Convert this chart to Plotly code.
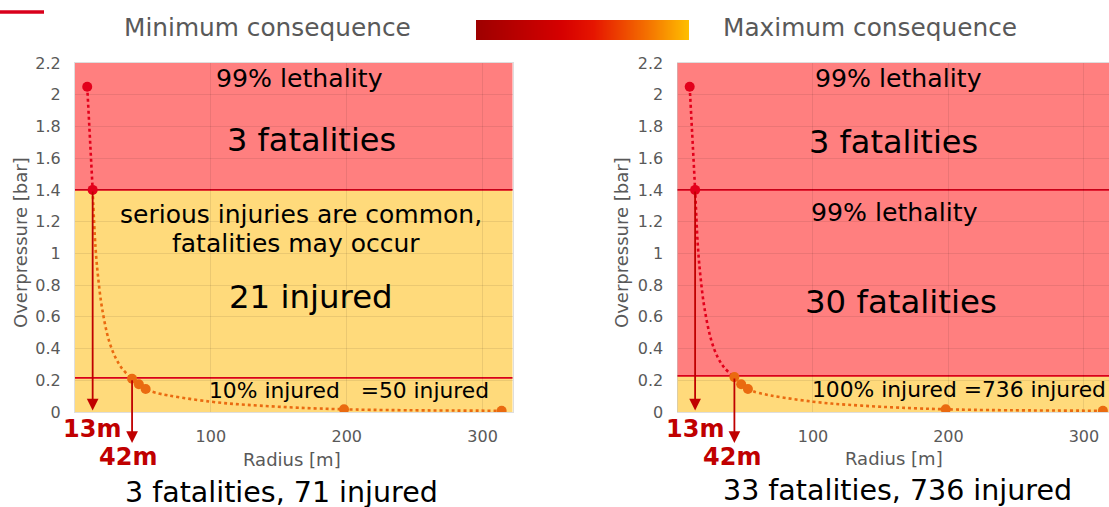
import plotly.graph_objects as go

# ---------------- data ----------------
y_ticks = [0, 0.2, 0.4, 0.6, 0.8, 1.0, 1.2, 1.4, 1.6, 1.8, 2.0, 2.2]
y_tick_text = ["0", "0.2", "0.4", "0.6", "0.8", "1", "1.2", "1.4", "1.6", "1.8", "2", "2.2"]
x_ticks = [100, 200, 300]
x_tick_text = ["100", "200", "300"]

# marked points (radius [m], overpressure [bar])
lethal_r = [9, 13]
lethal_p = [2.05, 1.4]
injury_r = [42, 47, 52, 198, 314]
injury_p_min = [0.21, 0.175, 0.145, 0.017, 0.008]
injury_p_max = [0.22, 0.175, 0.145, 0.017, 0.008]

# overpressure curve
curve_r_upper = [13, 15, 17, 20, 25, 30, 35, 42]
curve_p_upper_min = [1.4, 1.05, 0.85, 0.65, 0.45, 0.34, 0.27, 0.21]
curve_p_upper_max = [1.4, 1.05, 0.85, 0.65, 0.45, 0.34, 0.275, 0.22]
curve_r_lower = [42, 47, 52, 60, 100, 136, 198, 314]
curve_p_lower_min = [0.21, 0.175, 0.145, 0.12, 0.065, 0.04, 0.017, 0.008]
curve_p_lower_max = [0.22, 0.175, 0.145, 0.12, 0.065, 0.04, 0.017, 0.008]

# zone thresholds [bar]
min_lethal_from = 1.4
min_lines = [1.4, 0.215]
max_lethal_from = 0.228
max_lines = [1.4, 0.228]
y_max = 2.2

# texts
min_texts = ["99% lethality", "3 fatalities", "serious injuries are common,", "fatalities may occur",
             "21 injured", "10% injured   =50 injured"]
max_texts = ["99% lethality", "3 fatalities", "99% lethality", "30 fatalities", "100% injured =736 injured"]
min_total = "3 fatalities, 71 injured"
max_total = "33 fatalities, 736 injured"

# ---------------- style ----------------
W, H = 1109, 507
FONT = "Verdana, DejaVu Sans"
RED_ZONE = "#FF7F7F"
YEL_ZONE = "#FFDA7B"
RED = "#E3001B"
ORANGE = "#EA6A10"
LINE_RED = "#D9001B"
DARK_RED = "#C00000"
GREY = "#595959"


def px(x):
    return x / W


def py(y):
    return 1 - y / H


fig = go.Figure()

DOT = "3px,3px"


def add_panel(xa, ya, upper_line_x, upper_line_y, lower_line_x, lower_line_y, inj_p):
    fig.add_trace(go.Scatter(x=lower_line_x, y=lower_line_y, mode="lines",
                             line=dict(color=ORANGE, width=2.6, dash=DOT, shape="spline"),
                             xaxis=xa, yaxis=ya, hoverinfo="skip", showlegend=False))
    fig.add_trace(go.Scatter(x=upper_line_x, y=upper_line_y, mode="lines",
                             line=dict(color=RED, width=2.6, dash=DOT, shape="spline"),
                             xaxis=xa, yaxis=ya, hoverinfo="skip", showlegend=False))
    fig.add_trace(go.Scatter(x=lethal_r, y=lethal_p, mode="markers",
                             marker=dict(color=RED, size=10),
                             xaxis=xa, yaxis=ya, showlegend=False))
    fig.add_trace(go.Scatter(x=injury_r, y=inj_p, mode="markers",
                             marker=dict(color=ORANGE, size=10),
                             xaxis=xa, yaxis=ya, showlegend=False))


# left panel: red curve only between the two lethal points
add_panel("x", "y", lethal_r, lethal_p,
          curve_r_upper + curve_r_lower[1:], curve_p_upper_min + curve_p_lower_min[1:],
          injury_p_min)
# right panel: red curve down to 42 m
add_panel("x2", "y2", lethal_r[:1] + curve_r_upper, lethal_p[:1] + curve_p_upper_max,
          curve_r_lower, curve_p_lower_max, injury_p_max)

# gradient bar
fig.add_trace(go.Heatmap(z=[[0, 1], [0, 1]], x=[0, 1], y=[0, 1], zsmooth="best",
                         colorscale=[[0, "#9E0000"], [0.4, "#D60000"], [0.55, "#E61500"],
                                     [0.8, "#F47000"], [1, "#FFC000"]],
                         showscale=False, xaxis="x3", yaxis="y3", hoverinfo="skip"))

axis_common = dict(showgrid=True, gridcolor="rgba(0,0,0,0.08)", gridwidth=1, zeroline=False,
                   showline=True, linecolor="rgba(0,0,0,0.13)", linewidth=1, mirror=True,
                   tickfont=dict(family=FONT, size=16, color=GREY), ticks="",
                   ticklabelstandoff=10, automargin=False)

y_dom = [py(412), py(63)]
fig.update_layout(
    width=W, height=H, autosize=False, margin=dict(l=0, r=0, t=0, b=0, autoexpand=False),
    paper_bgcolor="white", plot_bgcolor="white",
    font=dict(family=FONT),
    xaxis=dict(domain=[px(75), px(512.5)], range=[0, 322], tickvals=x_ticks, ticktext=x_tick_text,
               anchor="y", **axis_common),
    yaxis=dict(domain=y_dom, range=[0, y_max], tickvals=y_ticks, ticktext=y_tick_text,
               anchor="x", **axis_common),
    xaxis2=dict(domain=[px(677.5), 1], range=[0, 318.5], tickvals=x_ticks, ticktext=x_tick_text,
                anchor="y2", **axis_common),
    yaxis2=dict(domain=y_dom, range=[0, y_max], tickvals=y_ticks, ticktext=y_tick_text,
                anchor="x2", **axis_common),
    xaxis3=dict(domain=[px(476), px(689)], range=[0, 1], visible=False, anchor="y3", automargin=False),
    yaxis3=dict(domain=[py(40), py(20)], range=[0, 1], visible=False, anchor="x3", automargin=False),
    showlegend=False,
)

shapes = []
for xr, yr, lethal_from, lines in [("x", "y", min_lethal_from, min_lines),
                                    ("x2", "y2", max_lethal_from, max_lines)]:
    shapes.append(dict(type="rect", xref=xr + " domain", yref=yr, x0=0, x1=1, y0=0, y1=lethal_from,
                       fillcolor=YEL_ZONE, line=dict(width=0), layer="below"))
    shapes.append(dict(type="rect", xref=xr + " domain", yref=yr, x0=0, x1=1, y0=lethal_from, y1=y_max,
                       fillcolor=RED_ZONE, line=dict(width=0), layer="below"))
    for lv in lines:
        shapes.append(dict(type="line", xref=xr + " domain", yref=yr, x0=0, x1=1, y0=lv, y1=lv,
                           line=dict(color=LINE_RED, width=1.8), layer="below"))
# red accent line top-left
shapes.append(dict(type="line", xref="paper", yref="paper", x0=0, x1=px(44), y0=py(12), y1=py(12),
                   line=dict(color="#D9001B", width=3.5)))
fig.update_layout(shapes=shapes)

ann = []


def txt(x, y, text, size, color="black", bold=False, angle=0):
    t = f"<b>{text}</b>" if bold else text
    ann.append(dict(x=px(x), y=py(y), xref="paper", yref="paper", text=t, showarrow=False,
                    xanchor="center", yanchor="middle", textangle=angle,
                    font=dict(family=FONT, size=size, color=color)))


# headers
txt(267, 28, "Minimum consequence", 24.8, GREY)
txt(870, 28, "Maximum consequence", 24.8, GREY)

# left panel texts
txt(300, 78, min_texts[0], 25.2)
txt(311, 140, min_texts[1], 32)
txt(301, 215, min_texts[2], 25)
txt(296, 243, min_texts[3], 25)
txt(311, 297, min_texts[4], 32.4)
txt(349, 390, min_texts[5], 21.8)
# right panel texts
txt(898, 78, max_texts[0], 25.2)
txt(893, 142, max_texts[1], 32)
txt(894, 212, max_texts[2], 25.2)
txt(901, 302, max_texts[3], 32.4)
txt(959, 389, max_texts[4], 21.8)

# totals
txt(281, 492, min_total, 28.5)
txt(897, 490, max_total, 28.5)

# axis titles
for xc in (20, 621):
    txt(xc, 243, "Overpressure [bar]", 18, GREY, angle=-90)
txt(292, 459, "Radius [m]", 18, GREY)
txt(894, 458, "Radius [m]", 18, GREY)

# arrows and distance labels
for xr, yr, inj_p, lbl13, lbl42 in [("x", "y", injury_p_min, (92, 429), (128, 457)),
                                    ("x2", "y2", injury_p_max, (695, 429), (732, 457))]:
    ann.append(dict(x=lethal_r[1], y=0.01, xref=xr, yref=yr, ax=lethal_r[1], ay=lethal_p[1],
                    axref=xr, ayref=yr, showarrow=True, arrowhead=2, arrowsize=1.3, arrowwidth=1.8,
                    arrowcolor=DARK_RED, text="", standoff=0, startstandoff=0))
    ann.append(dict(x=injury_r[0], y=-0.195, xref=xr, yref=yr, ax=injury_r[0], ay=inj_p[0],
                    axref=xr, ayref=yr, showarrow=True, arrowhead=2, arrowsize=1.3, arrowwidth=1.8,
                    arrowcolor=DARK_RED, text="", standoff=0, startstandoff=0))
    txt(lbl13[0], lbl13[1], f"{lethal_r[1]}m", 24, DARK_RED, bold=True)
    txt(lbl42[0], lbl42[1], f"{injury_r[0]}m", 24, DARK_RED, bold=True)

fig.update_layout(annotations=ann)

fig.write_html("out.html", config={"displayModeBar": False, "responsive": False},
               post_script="document.body.style.margin='0';")
